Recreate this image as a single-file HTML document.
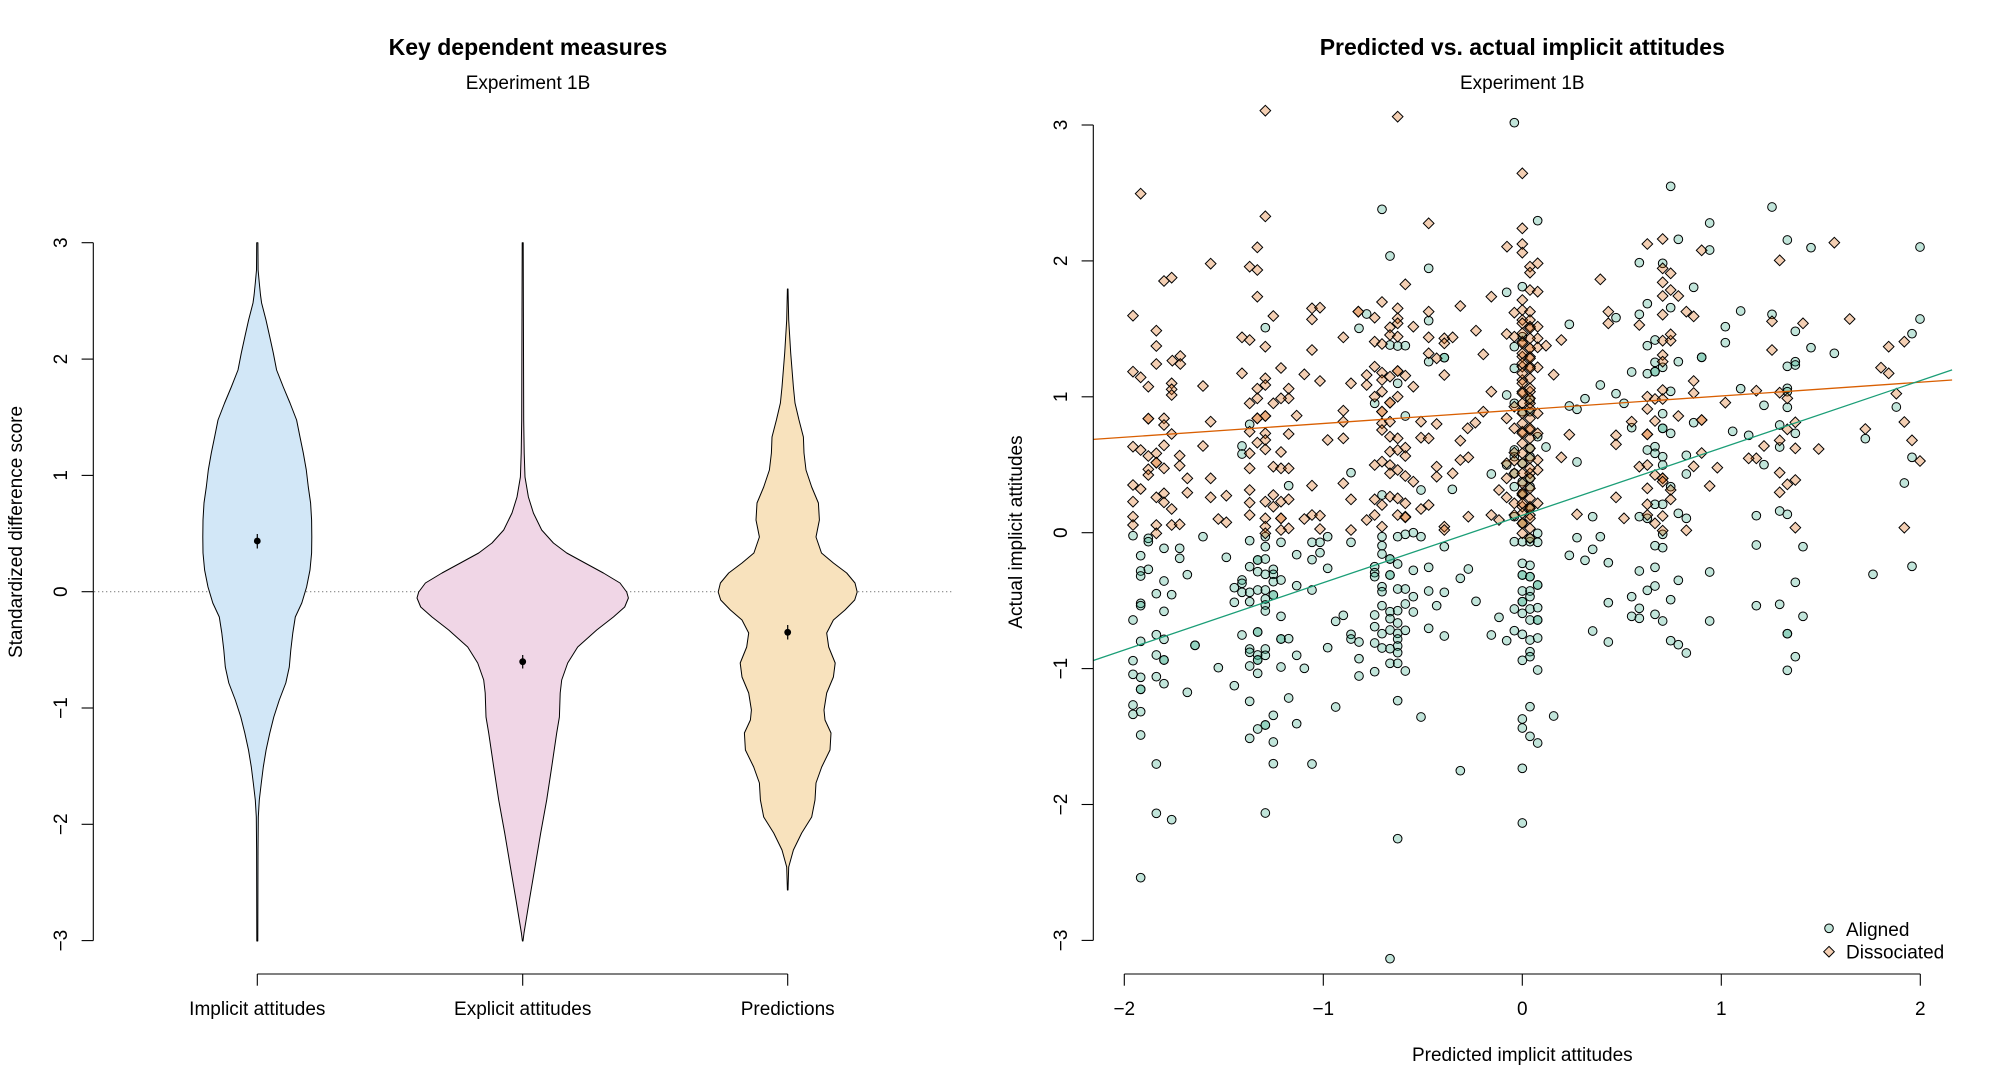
<!DOCTYPE html>
<html>
<head>
<meta charset="utf-8">
<style>
html,body{margin:0;padding:0;background:#fff;}
body{width:2000px;height:1090px;overflow:hidden;}
svg{display:block;}
text{font-family:"Liberation Sans",Arial,Helvetica,sans-serif;fill:#000;}
.c circle{fill:rgba(27,158,119,0.27);stroke:#000;stroke-width:3;}
.d path{fill:rgba(217,95,2,0.3);stroke:#000;stroke-width:3;}
</style>
</head>
<body>
<svg width="2000" height="1090" viewBox="0 0 2000 1090" xmlns="http://www.w3.org/2000/svg">
<rect width="2000" height="1090" fill="#fff"/>

<!-- ================= LEFT PANEL ================= -->
<text x="528" y="55" font-size="23" font-weight="bold" text-anchor="middle">Key dependent measures</text>
<text x="528" y="89" font-size="19" text-anchor="middle">Experiment 1B</text>

<!-- zero line -->
<line x1="94" y1="591.7" x2="953" y2="591.7" stroke="#8a8a8a" stroke-width="1.2" stroke-dasharray="1.3 2.7"/>

<!-- violins -->
<path d="M257.9 242.7 L258.1 270 L259.3 283 L260.5 295 L261.6 303 L266 320 L269.8 337 L273.3 353 L276.6 370 L283.3 387 L290 403 L296.6 420 L300 437 L303.3 453 L306.3 470 L308.3 487 L310.6 503 L311.6 520 L311.8 537 L311.6 553 L310 570 L306.6 587 L301.8 603 L295.3 617 L292.8 633 L290.8 650 L289.3 667 L285.8 683 L279.3 700 L273.8 717 L269.8 733 L266.1 750 L263.3 767 L261.3 783 L259.3 800 L258.3 817 L258 850 L257.8 941 L256.8 941 L256.6 850 L256.3 817 L255.3 800 L253.3 783 L251.3 767 L248.5 750 L244.8 733 L240.8 717 L235.3 700 L228.8 683 L225.3 667 L223.8 650 L221.8 633 L219.3 617 L212.8 603 L208 587 L204.6 570 L203 553 L202.8 537 L203 520 L204 503 L206.3 487 L208.3 470 L211.3 453 L214.6 437 L218 420 L224.6 403 L231.3 387 L238 370 L241.3 353 L244.8 337 L248.6 320 L253 303 L254.1 295 L255.3 283 L256.5 270 L256.7 242.7 Z" fill="#d2e7f7" stroke="#000" stroke-width="1" stroke-linejoin="round"/>
<path d="M523.2 242.7 L523.7 420 L524.2 453 L525 477 L528.4 497 L533.4 513 L541.7 530 L553.4 543 L566.7 553 L585 563 L603.4 573 L620 583 L626.7 592 L628.4 598 L624.7 607 L613.4 617 L596.7 630 L577.7 647 L567.7 663 L561.7 680 L560.2 693 L559.4 717 L556.7 733 L551.7 767 L546.7 800 L540.7 833 L535 867 L529.4 900 L524 933 L523 941 L522.4 941 L521.4 933 L516 900 L510.4 867 L504.7 833 L498.7 800 L493.7 767 L488.7 733 L486 717 L485.2 693 L483.7 680 L477.7 663 L467.7 647 L448.7 630 L432 617 L420.7 607 L417 598 L418.7 592 L425.4 583 L442 573 L460.4 563 L478.7 553 L492 543 L503.7 530 L512 513 L517 497 L520.4 477 L521.2 453 L521.7 420 L522.2 242.7 Z" fill="#f0d6e6" stroke="#000" stroke-width="1" stroke-linejoin="round"/>
<path d="M788 289 L788.7 320 L790.7 353 L793.4 387 L795 403 L799 420 L803.4 437 L804 453 L806 470 L811.7 487 L818.4 503 L819.4 520 L816 537 L821.5 553 L833.4 563 L846.7 573 L855 583 L857.2 592 L854.7 600 L845 610 L833.4 620 L826.7 633 L828.7 647 L835.2 663 L833.4 677 L826.7 693 L824 710 L825 720 L831 733 L830 750 L821.7 767 L816 783 L815 800 L811.7 817 L801.7 833 L793.4 850 L788.7 867 L788 890 L787.4 890 L786.7 867 L782 850 L773.7 833 L763.7 817 L760.4 800 L759.4 783 L753.7 767 L745.4 750 L744.4 733 L750.4 720 L751.4 710 L748.7 693 L742 677 L740.2 663 L746.7 647 L748.7 633 L742 620 L730.4 610 L720.7 600 L718.2 592 L720.4 583 L728.7 573 L742 563 L753.9 553 L759.4 537 L756 520 L757 503 L763.7 487 L769.4 470 L771.4 453 L772 437 L776.4 420 L780.4 403 L782 387 L784.7 353 L786.7 320 L787.4 289 Z" fill="#f8e2bd" stroke="#000" stroke-width="1" stroke-linejoin="round"/>

<!-- means with error bars -->
<g stroke="#000" stroke-width="1.2">
<line x1="257.3" y1="534" x2="257.3" y2="548.5"/>
<line x1="522.7" y1="655" x2="522.7" y2="668.5"/>
<line x1="787.7" y1="625" x2="787.7" y2="639.5"/>
</g>
<circle cx="257.3" cy="541" r="3.4" fill="#000"/>
<circle cx="522.7" cy="661.7" r="3.4" fill="#000"/>
<circle cx="787.7" cy="632.3" r="3.4" fill="#000"/>

<!-- left y axis -->
<g stroke="#000" stroke-width="1.1" fill="none">
<line x1="93.3" y1="242.7" x2="93.3" y2="940.6"/>
<line x1="81.6" y1="242.7" x2="93.3" y2="242.7"/>
<line x1="81.6" y1="359.1" x2="93.3" y2="359.1"/>
<line x1="81.6" y1="475.4" x2="93.3" y2="475.4"/>
<line x1="81.6" y1="591.7" x2="93.3" y2="591.7"/>
<line x1="81.6" y1="708" x2="93.3" y2="708"/>
<line x1="81.6" y1="824.3" x2="93.3" y2="824.3"/>
<line x1="81.6" y1="940.6" x2="93.3" y2="940.6"/>
<!-- left x axis -->
<line x1="257.3" y1="974" x2="787.7" y2="974"/>
<line x1="257.3" y1="974" x2="257.3" y2="985.7"/>
<line x1="522.7" y1="974" x2="522.7" y2="985.7"/>
<line x1="787.7" y1="974" x2="787.7" y2="985.7"/>
</g>
<g font-size="19" text-anchor="middle">
<text transform="translate(67,242.7) rotate(-90)">3</text>
<text transform="translate(67,359.1) rotate(-90)">2</text>
<text transform="translate(67,475.4) rotate(-90)">1</text>
<text transform="translate(67,591.7) rotate(-90)">0</text>
<text transform="translate(67,708) rotate(-90)">−1</text>
<text transform="translate(67,824.3) rotate(-90)">−2</text>
<text transform="translate(67,940.6) rotate(-90)">−3</text>
<text transform="translate(22,532) rotate(-90)">Standardized difference score</text>
<text x="257.3" y="1015">Implicit attitudes</text>
<text x="522.7" y="1015">Explicit attitudes</text>
<text x="787.7" y="1015">Predictions</text>
</g>

<!-- ================= RIGHT PANEL ================= -->
<text x="1522.3" y="55" font-size="23" font-weight="bold" text-anchor="middle">Predicted vs. actual implicit attitudes</text>
<text x="1522.3" y="89" font-size="19" text-anchor="middle">Experiment 1B</text>

<!-- scatter: zoom region 3 -->
<g transform="translate(1095,90) scale(0.333333)">
<g class="c">
<circle cx="1258" cy="98" r="13"/><circle cx="861" cy="358" r="13"/><circle cx="1328" cy="392" r="13"/><circle cx="885" cy="498" r="13"/><circle cx="1001" cy="535" r="13"/><circle cx="1235" cy="607" r="13"/><circle cx="1282" cy="590" r="13"/><circle cx="815" cy="672" r="13"/><circle cx="792" cy="715" r="13"/><circle cx="511" cy="713" r="13"/><circle cx="1001" cy="692" r="13"/><circle cx="885" cy="765" r="13"/><circle cx="908" cy="768" r="13"/><circle cx="931" cy="767" r="13"/><circle cx="1001" cy="815" r="13"/><circle cx="1048" cy="803" r="13"/><circle cx="1048" cy="803" r="13"/><circle cx="908" cy="880" r="13"/><circle cx="839" cy="940" r="13"/><circle cx="931" cy="978" r="13"/><circle cx="464" cy="1003" r="13"/><circle cx="441" cy="1068" r="13"/><circle cx="441" cy="1092" r="13"/><circle cx="768" cy="1148" r="13"/><circle cx="1189" cy="1152" r="13"/><circle cx="978" cy="1200" r="13"/><circle cx="1072" cy="1198" r="13"/><circle cx="1235" cy="1125" r="13"/><circle cx="1258" cy="1100" r="13"/><circle cx="1258" cy="1150" r="13"/><circle cx="1282" cy="1175" r="13"/><circle cx="1305" cy="1190" r="13"/><circle cx="1305" cy="1075" r="13"/><circle cx="1305" cy="1100" r="13"/><circle cx="1258" cy="1080" r="13"/><circle cx="1258" cy="770" r="13"/><circle cx="1282" cy="740" r="13"/><circle cx="1258" cy="835" r="13"/><circle cx="1305" cy="930" r="13"/><circle cx="1235" cy="915" r="13"/><circle cx="1258" cy="940" r="13"/><circle cx="1305" cy="965" r="13"/><circle cx="1282" cy="965" r="13"/><circle cx="1328" cy="1040" r="13"/><circle cx="581" cy="1187" r="13"/><circle cx="861" cy="1215" r="13"/><circle cx="114" cy="1337" r="13"/><circle cx="160" cy="1345" r="13"/><circle cx="160" cy="1355" r="13"/><circle cx="324" cy="1340" r="13"/><circle cx="464" cy="1352" r="13"/><circle cx="511" cy="1340" r="13"/><circle cx="511" cy="1370" r="13"/><circle cx="558" cy="1357" r="13"/><circle cx="651" cy="1357" r="13"/><circle cx="675" cy="1357" r="13"/><circle cx="698" cy="1340" r="13"/><circle cx="768" cy="1357" r="13"/><circle cx="861" cy="1340" r="13"/><circle cx="861" cy="1367" r="13"/><circle cx="908" cy="1340" r="13"/><circle cx="931" cy="1333" r="13"/><circle cx="955" cy="1328" r="13"/><circle cx="978" cy="1340" r="13"/><circle cx="1048" cy="1370" r="13"/><circle cx="1258" cy="1355" r="13"/><circle cx="1282" cy="1355" r="13"/><circle cx="1305" cy="1355" r="13"/><circle cx="1328" cy="1330" r="13"/><circle cx="1328" cy="1357" r="13"/><circle cx="207" cy="1375" r="13"/><circle cx="254" cy="1375" r="13"/>
<circle cx="1282" cy="1120" r="13"/><circle cx="1282" cy="1210" r="13"/><circle cx="1282" cy="1300" r="13"/><circle cx="1305" cy="1165" r="13"/><circle cx="1305" cy="1255" r="13"/><circle cx="1305" cy="1345" r="13"/><circle cx="1258" cy="1190" r="13"/><circle cx="1258" cy="1280" r="13"/>
</g>
<g class="d">
<path d="M511 62m0-16l16 16-16 16-16-16z"/><path d="M908 80m0-16l16 16-16 16-16-16z"/><path d="M1282 250m0-16l16 16-16 16-16-16z"/><path d="M137 311m0-16l16 16-16 16-16-16z"/><path d="M511 379m0-16l16 16-16 16-16-16z"/><path d="M1001 400m0-16l16 16-16 16-16-16z"/><path d="M1282 415m0-16l16 16-16 16-16-16z"/><path d="M1236 470m0-16l16 16-16 16-16-16z"/><path d="M1282 462m0-16l16 16-16 16-16-16z"/><path d="M1282 488m0-16l16 16-16 16-16-16z"/><path d="M487 472m0-16l16 16-16 16-16-16z"/><path d="M347 521m0-16l16 16-16 16-16-16z"/><path d="M464 530m0-16l16 16-16 16-16-16z"/><path d="M487 540m0-16l16 16-16 16-16-16z"/><path d="M207 573m0-16l16 16-16 16-16-16z"/><path d="M230 563m0-16l16 16-16 16-16-16z"/><path d="M931 583m0-16l16 16-16 16-16-16z"/><path d="M1328 520m0-16l16 16-16 16-16-16z"/><path d="M1305 530m0-16l16 16-16 16-16-16z"/><path d="M1305 548m0-16l16 16-16 16-16-16z"/><path d="M487 620m0-16l16 16-16 16-16-16z"/><path d="M1189 620m0-16l16 16-16 16-16-16z"/><path d="M1305 600m0-16l16 16-16 16-16-16z"/><path d="M1328 605m0-16l16 16-16 16-16-16z"/><path d="M861 636m0-16l16 16-16 16-16-16z"/><path d="M1096 648m0-16l16 16-16 16-16-16z"/><path d="M1282 630m0-16l16 16-16 16-16-16z"/><path d="M114 677m0-16l16 16-16 16-16-16z"/><path d="M651 655m0-16l16 16-16 16-16-16z"/><path d="M675 653m0-16l16 16-16 16-16-16z"/><path d="M651 688m0-16l16 16-16 16-16-16z"/><path d="M535 678m0-16l16 16-16 16-16-16z"/><path d="M790 665m0-16l16 16-16 16-16-16z"/><path d="M790 665m0-16l16 16-16 16-16-16z"/><path d="M839 683m0-16l16 16-16 16-16-16z"/><path d="M908 655m0-16l16 16-16 16-16-16z"/><path d="M908 685m0-16l16 16-16 16-16-16z"/><path d="M908 700m0-16l16 16-16 16-16-16z"/><path d="M1001 665m0-16l16 16-16 16-16-16z"/><path d="M1258 668m0-16l16 16-16 16-16-16z"/><path d="M1282 660m0-16l16 16-16 16-16-16z"/><path d="M1305 665m0-16l16 16-16 16-16-16z"/><path d="M1282 690m0-16l16 16-16 16-16-16z"/><path d="M1305 690m0-16l16 16-16 16-16-16z"/><path d="M1305 710m0-16l16 16-16 16-16-16z"/><path d="M1328 710m0-16l16 16-16 16-16-16z"/><path d="M184 722m0-16l16 16-16 16-16-16z"/><path d="M441 742m0-16l16 16-16 16-16-16z"/><path d="M464 750m0-16l16 16-16 16-16-16z"/><path d="M745 742m0-16l16 16-16 16-16-16z"/><path d="M885 712m0-16l16 16-16 16-16-16z"/><path d="M885 735m0-16l16 16-16 16-16-16z"/><path d="M908 740m0-16l16 16-16 16-16-16z"/><path d="M955 710m0-16l16 16-16 16-16-16z"/><path d="M1001 742m0-16l16 16-16 16-16-16z"/><path d="M1048 745m0-16l16 16-16 16-16-16z"/><path d="M1073 742m0-16l16 16-16 16-16-16z"/><path d="M1143 722m0-16l16 16-16 16-16-16z"/><path d="M1235 732m0-16l16 16-16 16-16-16z"/><path d="M1258 740m0-16l16 16-16 16-16-16z"/><path d="M1282 755m0-16l16 16-16 16-16-16z"/><path d="M1328 745m0-16l16 16-16 16-16-16z"/><path d="M184 768m0-16l16 16-16 16-16-16z"/><path d="M511 770m0-16l16 16-16 16-16-16z"/><path d="M651 780m0-16l16 16-16 16-16-16z"/><path d="M839 755m0-16l16 16-16 16-16-16z"/><path d="M861 762m0-16l16 16-16 16-16-16z"/><path d="M1048 760m0-16l16 16-16 16-16-16z"/><path d="M1305 775m0-16l16 16-16 16-16-16z"/><path d="M1328 772m0-16l16 16-16 16-16-16z"/><path d="M1282 800m0-16l16 16-16 16-16-16z"/><path d="M1305 800m0-16l16 16-16 16-16-16z"/><path d="M184 822m0-16l16 16-16 16-16-16z"/><path d="M232 812m0-16l16 16-16 16-16-16z"/><path d="M256 798m0-16l16 16-16 16-16-16z"/><path d="M256 822m0-16l16 16-16 16-16-16z"/><path d="M114 845m0-16l16 16-16 16-16-16z"/><path d="M137 862m0-16l16 16-16 16-16-16z"/><path d="M160 890m0-16l16 16-16 16-16-16z"/><path d="M230 880m0-16l16 16-16 16-16-16z"/><path d="M230 898m0-16l16 16-16 16-16-16z"/><path d="M230 915m0-16l16 16-16 16-16-16z"/><path d="M324 888m0-16l16 16-16 16-16-16z"/><path d="M441 850m0-16l16 16-16 16-16-16z"/><path d="M511 865m0-16l16 16-16 16-16-16z"/><path d="M511 885m0-16l16 16-16 16-16-16z"/><path d="M487 896m0-16l16 16-16 16-16-16z"/><path d="M558 834m0-16l16 16-16 16-16-16z"/><path d="M628 853m0-16l16 16-16 16-16-16z"/><path d="M675 873m0-16l16 16-16 16-16-16z"/><path d="M581 896m0-16l16 16-16 16-16-16z"/><path d="M581 925m0-16l16 16-16 16-16-16z"/><path d="M768 880m0-16l16 16-16 16-16-16z"/><path d="M815 855m0-16l16 16-16 16-16-16z"/><path d="M815 885m0-16l16 16-16 16-16-16z"/><path d="M839 830m0-16l16 16-16 16-16-16z"/><path d="M861 848m0-16l16 16-16 16-16-16z"/><path d="M861 870m0-16l16 16-16 16-16-16z"/><path d="M885 860m0-16l16 16-16 16-16-16z"/><path d="M908 843m0-16l16 16-16 16-16-16z"/><path d="M908 843m0-16l16 16-16 16-16-16z"/><path d="M931 857m0-16l16 16-16 16-16-16z"/><path d="M955 890m0-16l16 16-16 16-16-16z"/><path d="M1001 790m0-16l16 16-16 16-16-16z"/><path d="M1025 805m0-16l16 16-16 16-16-16z"/><path d="M1048 855m0-16l16 16-16 16-16-16z"/><path d="M1165 793m0-16l16 16-16 16-16-16z"/><path d="M1282 830m0-16l16 16-16 16-16-16z"/><path d="M1328 832m0-16l16 16-16 16-16-16z"/><path d="M1305 830m0-16l16 16-16 16-16-16z"/><path d="M1189 905m0-16l16 16-16 16-16-16z"/><path d="M1282 870m0-16l16 16-16 16-16-16z"/><path d="M1282 905m0-16l16 16-16 16-16-16z"/><path d="M1305 905m0-16l16 16-16 16-16-16z"/><path d="M861 905m0-16l16 16-16 16-16-16z"/><path d="M885 938m0-16l16 16-16 16-16-16z"/><path d="M885 938m0-16l16 16-16 16-16-16z"/><path d="M839 920m0-16l16 16-16 16-16-16z"/><path d="M908 920m0-16l16 16-16 16-16-16z"/><path d="M464 940m0-16l16 16-16 16-16-16z"/><path d="M487 925m0-16l16 16-16 16-16-16z"/><path d="M535 940m0-16l16 16-16 16-16-16z"/><path d="M511 978m0-16l16 16-16 16-16-16z"/><path d="M511 978m0-16l16 16-16 16-16-16z"/><path d="M487 985m0-16l16 16-16 16-16-16z"/><path d="M487 985m0-16l16 16-16 16-16-16z"/><path d="M558 925m0-16l16 16-16 16-16-16z"/><path d="M160 986m0-16l16 16-16 16-16-16z"/><path d="M160 986m0-16l16 16-16 16-16-16z"/><path d="M207 985m0-16l16 16-16 16-16-16z"/><path d="M207 1005m0-16l16 16-16 16-16-16z"/><path d="M347 995m0-16l16 16-16 16-16-16z"/><path d="M605 977m0-16l16 16-16 16-16-16z"/><path d="M745 962m0-16l16 16-16 16-16-16z"/><path d="M745 995m0-16l16 16-16 16-16-16z"/><path d="M861 965m0-16l16 16-16 16-16-16z"/><path d="M861 965m0-16l16 16-16 16-16-16z"/><path d="M861 1000m0-16l16 16-16 16-16-16z"/><path d="M885 995m0-16l16 16-16 16-16-16z"/><path d="M978 995m0-16l16 16-16 16-16-16z"/><path d="M1025 1002m0-16l16 16-16 16-16-16z"/><path d="M1118 1015m0-16l16 16-16 16-16-16z"/><path d="M1141 998m0-16l16 16-16 16-16-16z"/><path d="M1165 965m0-16l16 16-16 16-16-16z"/><path d="M1235 985m0-16l16 16-16 16-16-16z"/><path d="M1258 950m0-16l16 16-16 16-16-16z"/><path d="M1305 940m0-16l16 16-16 16-16-16z"/><path d="M1328 970m0-16l16 16-16 16-16-16z"/><path d="M230 1032m0-16l16 16-16 16-16-16z"/><path d="M464 1025m0-16l16 16-16 16-16-16z"/><path d="M511 1030m0-16l16 16-16 16-16-16z"/><path d="M581 1032m0-16l16 16-16 16-16-16z"/><path d="M861 1020m0-16l16 16-16 16-16-16z"/><path d="M885 1040m0-16l16 16-16 16-16-16z"/><path d="M908 1045m0-16l16 16-16 16-16-16z"/><path d="M978 1043m0-16l16 16-16 16-16-16z"/><path d="M1001 1045m0-16l16 16-16 16-16-16z"/><path d="M1096 1052m0-16l16 16-16 16-16-16z"/><path d="M698 1050m0-16l16 16-16 16-16-16z"/><path d="M745 1045m0-16l16 16-16 16-16-16z"/><path d="M1258 1015m0-16l16 16-16 16-16-16z"/><path d="M1282 1025m0-16l16 16-16 16-16-16z"/><path d="M1305 1020m0-16l16 16-16 16-16-16z"/><path d="M1328 1030m0-16l16 16-16 16-16-16z"/><path d="M114 1070m0-16l16 16-16 16-16-16z"/><path d="M137 1080m0-16l16 16-16 16-16-16z"/><path d="M160 1098m0-16l16 16-16 16-16-16z"/><path d="M184 1090m0-16l16 16-16 16-16-16z"/><path d="M207 1066m0-16l16 16-16 16-16-16z"/><path d="M324 1068m0-16l16 16-16 16-16-16z"/><path d="M464 1090m0-16l16 16-16 16-16-16z"/><path d="M487 1058m0-16l16 16-16 16-16-16z"/><path d="M511 1050m0-16l16 16-16 16-16-16z"/><path d="M511 1078m0-16l16 16-16 16-16-16z"/><path d="M558 1086m0-16l16 16-16 16-16-16z"/><path d="M885 1085m0-16l16 16-16 16-16-16z"/><path d="M908 1080m0-16l16 16-16 16-16-16z"/><path d="M931 1073m0-16l16 16-16 16-16-16z"/><path d="M931 1098m0-16l16 16-16 16-16-16z"/><path d="M1096 1110m0-16l16 16-16 16-16-16z"/><path d="M1120 1102m0-16l16 16-16 16-16-16z"/><path d="M1258 1088m0-16l16 16-16 16-16-16z"/><path d="M1258 1112m0-16l16 16-16 16-16-16z"/><path d="M1328 1110m0-16l16 16-16 16-16-16z"/><path d="M160 1138m0-16l16 16-16 16-16-16z"/><path d="M160 1155m0-16l16 16-16 16-16-16z"/><path d="M184 1118m0-16l16 16-16 16-16-16z"/><path d="M184 1118m0-16l16 16-16 16-16-16z"/><path d="M207 1135m0-16l16 16-16 16-16-16z"/><path d="M254 1097m0-16l16 16-16 16-16-16z"/><path d="M254 1127m0-16l16 16-16 16-16-16z"/><path d="M277 1165m0-16l16 16-16 16-16-16z"/><path d="M347 1165m0-16l16 16-16 16-16-16z"/><path d="M464 1135m0-16l16 16-16 16-16-16z"/><path d="M535 1130m0-16l16 16-16 16-16-16z"/><path d="M558 1135m0-16l16 16-16 16-16-16z"/><path d="M581 1135m0-16l16 16-16 16-16-16z"/><path d="M839 1125m0-16l16 16-16 16-16-16z"/><path d="M861 1115m0-16l16 16-16 16-16-16z"/><path d="M885 1125m0-16l16 16-16 16-16-16z"/><path d="M885 1150m0-16l16 16-16 16-16-16z"/><path d="M908 1140m0-16l16 16-16 16-16-16z"/><path d="M931 1158m0-16l16 16-16 16-16-16z"/><path d="M955 1175m0-16l16 16-16 16-16-16z"/><path d="M1025 1130m0-16l16 16-16 16-16-16z"/><path d="M1025 1160m0-16l16 16-16 16-16-16z"/><path d="M1073 1150m0-16l16 16-16 16-16-16z"/><path d="M1235 1120m0-16l16 16-16 16-16-16z"/><path d="M1235 1165m0-16l16 16-16 16-16-16z"/><path d="M1258 1150m0-16l16 16-16 16-16-16z"/><path d="M1305 1150m0-16l16 16-16 16-16-16z"/><path d="M1328 1140m0-16l16 16-16 16-16-16z"/><path d="M114 1185m0-16l16 16-16 16-16-16z"/><path d="M137 1197m0-16l16 16-16 16-16-16z"/><path d="M184 1222m0-16l16 16-16 16-16-16z"/><path d="M207 1210m0-16l16 16-16 16-16-16z"/><path d="M207 1237m0-16l16 16-16 16-16-16z"/><path d="M230 1257m0-16l16 16-16 16-16-16z"/><path d="M277 1208m0-16l16 16-16 16-16-16z"/><path d="M347 1222m0-16l16 16-16 16-16-16z"/><path d="M394 1217m0-16l16 16-16 16-16-16z"/><path d="M464 1200m0-16l16 16-16 16-16-16z"/><path d="M464 1238m0-16l16 16-16 16-16-16z"/><path d="M511 1235m0-16l16 16-16 16-16-16z"/><path d="M535 1250m0-16l16 16-16 16-16-16z"/><path d="M535 1215m0-16l16 16-16 16-16-16z"/><path d="M558 1235m0-16l16 16-16 16-16-16z"/><path d="M581 1228m0-16l16 16-16 16-16-16z"/><path d="M558 1285m0-16l16 16-16 16-16-16z"/><path d="M558 1285m0-16l16 16-16 16-16-16z"/><path d="M651 1187m0-16l16 16-16 16-16-16z"/><path d="M745 1180m0-16l16 16-16 16-16-16z"/><path d="M768 1228m0-16l16 16-16 16-16-16z"/><path d="M839 1228m0-16l16 16-16 16-16-16z"/><path d="M861 1245m0-16l16 16-16 16-16-16z"/><path d="M885 1220m0-16l16 16-16 16-16-16z"/><path d="M908 1225m0-16l16 16-16 16-16-16z"/><path d="M931 1240m0-16l16 16-16 16-16-16z"/><path d="M931 1280m0-16l16 16-16 16-16-16z"/><path d="M978 1257m0-16l16 16-16 16-16-16z"/><path d="M1001 1245m0-16l16 16-16 16-16-16z"/><path d="M1212 1200m0-16l16 16-16 16-16-16z"/><path d="M1235 1222m0-16l16 16-16 16-16-16z"/><path d="M1258 1240m0-16l16 16-16 16-16-16z"/><path d="M1282 1215m0-16l16 16-16 16-16-16z"/><path d="M1282 1250m0-16l16 16-16 16-16-16z"/><path d="M1305 1250m0-16l16 16-16 16-16-16z"/><path d="M1328 1240m0-16l16 16-16 16-16-16z"/><path d="M114 1235m0-16l16 16-16 16-16-16z"/><path d="M114 1280m0-16l16 16-16 16-16-16z"/><path d="M114 1305m0-16l16 16-16 16-16-16z"/><path d="M184 1305m0-16l16 16-16 16-16-16z"/><path d="M230 1305m0-16l16 16-16 16-16-16z"/><path d="M254 1303m0-16l16 16-16 16-16-16z"/><path d="M370 1287m0-16l16 16-16 16-16-16z"/><path d="M394 1297m0-16l16 16-16 16-16-16z"/><path d="M464 1275m0-16l16 16-16 16-16-16z"/><path d="M511 1285m0-16l16 16-16 16-16-16z"/><path d="M511 1310m0-16l16 16-16 16-16-16z"/><path d="M581 1315m0-16l16 16-16 16-16-16z"/><path d="M628 1287m0-16l16 16-16 16-16-16z"/><path d="M651 1275m0-16l16 16-16 16-16-16z"/><path d="M675 1277m0-16l16 16-16 16-16-16z"/><path d="M675 1317m0-16l16 16-16 16-16-16z"/><path d="M768 1320m0-16l16 16-16 16-16-16z"/><path d="M815 1290m0-16l16 16-16 16-16-16z"/><path d="M839 1275m0-16l16 16-16 16-16-16z"/><path d="M861 1310m0-16l16 16-16 16-16-16z"/><path d="M908 1275m0-16l16 16-16 16-16-16z"/><path d="M931 1282m0-16l16 16-16 16-16-16z"/><path d="M1048 1310m0-16l16 16-16 16-16-16z"/><path d="M1048 1320m0-16l16 16-16 16-16-16z"/><path d="M1120 1280m0-16l16 16-16 16-16-16z"/><path d="M1189 1275m0-16l16 16-16 16-16-16z"/><path d="M1212 1290m0-16l16 16-16 16-16-16z"/><path d="M1258 1275m0-16l16 16-16 16-16-16z"/><path d="M1282 1300m0-16l16 16-16 16-16-16z"/><path d="M1305 1275m0-16l16 16-16 16-16-16z"/><path d="M184 1330m0-16l16 16-16 16-16-16z"/><path d="M511 1330m0-16l16 16-16 16-16-16z"/><path d="M558 1320m0-16l16 16-16 16-16-16z"/>
<path d="M1282 700m0-16l16 16-16 16-16-16z"/><path d="M1282 730m0-16l16 16-16 16-16-16z"/><path d="M1282 760m0-16l16 16-16 16-16-16z"/><path d="M1282 790m0-16l16 16-16 16-16-16z"/><path d="M1282 820m0-16l16 16-16 16-16-16z"/><path d="M1282 850m0-16l16 16-16 16-16-16z"/><path d="M1282 880m0-16l16 16-16 16-16-16z"/><path d="M1282 910m0-16l16 16-16 16-16-16z"/><path d="M1282 940m0-16l16 16-16 16-16-16z"/><path d="M1282 970m0-16l16 16-16 16-16-16z"/><path d="M1282 1000m0-16l16 16-16 16-16-16z"/><path d="M1282 1030m0-16l16 16-16 16-16-16z"/><path d="M1282 1060m0-16l16 16-16 16-16-16z"/><path d="M1282 1090m0-16l16 16-16 16-16-16z"/><path d="M1282 1120m0-16l16 16-16 16-16-16z"/><path d="M1282 1150m0-16l16 16-16 16-16-16z"/><path d="M1282 1180m0-16l16 16-16 16-16-16z"/><path d="M1282 1210m0-16l16 16-16 16-16-16z"/><path d="M1282 1240m0-16l16 16-16 16-16-16z"/><path d="M1282 1270m0-16l16 16-16 16-16-16z"/><path d="M1282 1300m0-16l16 16-16 16-16-16z"/><path d="M1282 1330m0-16l16 16-16 16-16-16z"/>
<path d="M1305 715m0-16l16 16-16 16-16-16z"/><path d="M1305 745m0-16l16 16-16 16-16-16z"/><path d="M1305 775m0-16l16 16-16 16-16-16z"/><path d="M1305 805m0-16l16 16-16 16-16-16z"/><path d="M1305 835m0-16l16 16-16 16-16-16z"/><path d="M1305 865m0-16l16 16-16 16-16-16z"/><path d="M1305 895m0-16l16 16-16 16-16-16z"/><path d="M1305 925m0-16l16 16-16 16-16-16z"/><path d="M1305 955m0-16l16 16-16 16-16-16z"/><path d="M1305 985m0-16l16 16-16 16-16-16z"/><path d="M1305 1015m0-16l16 16-16 16-16-16z"/><path d="M1305 1045m0-16l16 16-16 16-16-16z"/><path d="M1305 1075m0-16l16 16-16 16-16-16z"/><path d="M1305 1105m0-16l16 16-16 16-16-16z"/><path d="M1305 1135m0-16l16 16-16 16-16-16z"/><path d="M1305 1165m0-16l16 16-16 16-16-16z"/><path d="M1305 1195m0-16l16 16-16 16-16-16z"/><path d="M1305 1225m0-16l16 16-16 16-16-16z"/><path d="M1305 1255m0-16l16 16-16 16-16-16z"/><path d="M1305 1285m0-16l16 16-16 16-16-16z"/><path d="M1305 1315m0-16l16 16-16 16-16-16z"/><path d="M1305 1345m0-16l16 16-16 16-16-16z"/>
</g>
</g>

<!-- scatter: zoom region 4 -->
<g transform="translate(1530,90) scale(0.333333)">
<g class="c">
<circle cx="422" cy="289" r="13"/><circle cx="726" cy="351" r="13"/><circle cx="539" cy="399" r="13"/><circle cx="445" cy="448" r="13"/><circle cx="772" cy="450" r="13"/><circle cx="843" cy="473" r="13"/><circle cx="1170" cy="471" r="13"/><circle cx="539" cy="480" r="13"/><circle cx="328" cy="518" r="13"/><circle cx="398" cy="520" r="13"/><circle cx="491" cy="592" r="13"/><circle cx="352" cy="641" r="13"/><circle cx="422" cy="653" r="13"/><circle cx="632" cy="663" r="13"/><circle cx="258" cy="683" r="13"/><circle cx="726" cy="673" r="13"/><circle cx="328" cy="673" r="13"/><circle cx="118" cy="703" r="13"/><circle cx="586" cy="710" r="13"/><circle cx="1170" cy="687" r="13"/><circle cx="1146" cy="731" r="13"/><circle cx="796" cy="724" r="13"/><circle cx="586" cy="758" r="13"/><circle cx="352" cy="767" r="13"/><circle cx="375" cy="750" r="13"/><circle cx="843" cy="773" r="13"/><circle cx="913" cy="790" r="13"/><circle cx="375" cy="817" r="13"/><circle cx="398" cy="832" r="13"/><circle cx="445" cy="815" r="13"/><circle cx="515" cy="802" r="13"/><circle cx="515" cy="802" r="13"/><circle cx="796" cy="815" r="13"/><circle cx="796" cy="825" r="13"/><circle cx="772" cy="829" r="13"/><circle cx="305" cy="846" r="13"/><circle cx="352" cy="851" r="13"/><circle cx="375" cy="845" r="13"/><circle cx="375" cy="845" r="13"/><circle cx="211" cy="885" r="13"/><circle cx="258" cy="911" r="13"/><circle cx="165" cy="926" r="13"/><circle cx="118" cy="948" r="13"/><circle cx="141" cy="958" r="13"/><circle cx="282" cy="940" r="13"/><circle cx="422" cy="904" r="13"/><circle cx="632" cy="896" r="13"/><circle cx="772" cy="895" r="13"/><circle cx="772" cy="905" r="13"/><circle cx="702" cy="946" r="13"/><circle cx="772" cy="952" r="13"/><circle cx="1099" cy="951" r="13"/><circle cx="398" cy="971" r="13"/><circle cx="491" cy="998" r="13"/><circle cx="305" cy="1013" r="13"/><circle cx="398" cy="1015" r="13"/><circle cx="398" cy="1015" r="13"/><circle cx="422" cy="1030" r="13"/><circle cx="608" cy="1024" r="13"/><circle cx="656" cy="1036" r="13"/><circle cx="749" cy="1005" r="13"/><circle cx="796" cy="1030" r="13"/><circle cx="1006" cy="1046" r="13"/><circle cx="48" cy="1071" r="13"/><circle cx="352" cy="1080" r="13"/><circle cx="375" cy="1070" r="13"/><circle cx="375" cy="1090" r="13"/><circle cx="398" cy="1100" r="13"/><circle cx="469" cy="1096" r="13"/><circle cx="398" cy="1125" r="13"/><circle cx="749" cy="1071" r="13"/><circle cx="702" cy="1124" r="13"/><circle cx="141" cy="1116" r="13"/><circle cx="469" cy="1152" r="13"/><circle cx="1146" cy="1102" r="13"/><circle cx="1123" cy="1179" r="13"/><circle cx="422" cy="1190" r="13"/><circle cx="375" cy="1243" r="13"/><circle cx="398" cy="1243" r="13"/><circle cx="445" cy="1270" r="13"/><circle cx="469" cy="1285" r="13"/><circle cx="328" cy="1280" r="13"/><circle cx="352" cy="1285" r="13"/><circle cx="188" cy="1280" r="13"/><circle cx="679" cy="1277" r="13"/><circle cx="749" cy="1263" r="13"/><circle cx="772" cy="1273" r="13"/><circle cx="141" cy="1343" r="13"/><circle cx="211" cy="1340" r="13"/><circle cx="375" cy="1367" r="13"/><circle cx="398" cy="1373" r="13"/><circle cx="679" cy="1365" r="13"/><circle cx="819" cy="1370" r="13"/><circle cx="188" cy="1378" r="13"/><circle cx="398" cy="1333" r="13"/>
</g>
<g class="d">
<path d="M398 447m0-16l16 16-16 16-16-16z"/><path d="M352 462m0-16l16 16-16 16-16-16z"/><path d="M515 481m0-16l16 16-16 16-16-16z"/><path d="M749 511m0-16l16 16-16 16-16-16z"/><path d="M913 458m0-16l16 16-16 16-16-16z"/><path d="M211 568m0-16l16 16-16 16-16-16z"/><path d="M398 535m0-16l16 16-16 16-16-16z"/><path d="M422 550m0-16l16 16-16 16-16-16z"/><path d="M398 577m0-16l16 16-16 16-16-16z"/><path d="M422 600m0-16l16 16-16 16-16-16z"/><path d="M445 618m0-16l16 16-16 16-16-16z"/><path d="M398 618m0-16l16 16-16 16-16-16z"/><path d="M235 665m0-16l16 16-16 16-16-16z"/><path d="M235 700m0-16l16 16-16 16-16-16z"/><path d="M328 705m0-16l16 16-16 16-16-16z"/><path d="M469 665m0-16l16 16-16 16-16-16z"/><path d="M491 679m0-16l16 16-16 16-16-16z"/><path d="M398 674m0-16l16 16-16 16-16-16z"/><path d="M398 752m0-16l16 16-16 16-16-16z"/><path d="M422 752m0-16l16 16-16 16-16-16z"/><path d="M422 733m0-16l16 16-16 16-16-16z"/><path d="M94 750m0-16l16 16-16 16-16-16z"/><path d="M48 767m0-16l16 16-16 16-16-16z"/><path d="M726 694m0-16l16 16-16 16-16-16z"/><path d="M819 700m0-16l16 16-16 16-16-16z"/><path d="M959 687m0-16l16 16-16 16-16-16z"/><path d="M726 780m0-16l16 16-16 16-16-16z"/><path d="M398 795m0-16l16 16-16 16-16-16z"/><path d="M398 815m0-16l16 16-16 16-16-16z"/><path d="M1076 770m0-16l16 16-16 16-16-16z"/><path d="M1123 755m0-16l16 16-16 16-16-16z"/><path d="M71 854m0-16l16 16-16 16-16-16z"/><path d="M1053 833m0-16l16 16-16 16-16-16z"/><path d="M1076 850m0-16l16 16-16 16-16-16z"/><path d="M491 873m0-16l16 16-16 16-16-16z"/><path d="M491 909m0-16l16 16-16 16-16-16z"/><path d="M398 900m0-16l16 16-16 16-16-16z"/><path d="M352 920m0-16l16 16-16 16-16-16z"/><path d="M375 927m0-16l16 16-16 16-16-16z"/><path d="M398 927m0-16l16 16-16 16-16-16z"/><path d="M679 902m0-16l16 16-16 16-16-16z"/><path d="M749 908m0-16l16 16-16 16-16-16z"/><path d="M772 925m0-16l16 16-16 16-16-16z"/><path d="M586 938m0-16l16 16-16 16-16-16z"/><path d="M352 957m0-16l16 16-16 16-16-16z"/><path d="M445 978m0-16l16 16-16 16-16-16z"/><path d="M515 990m0-16l16 16-16 16-16-16z"/><path d="M515 990m0-16l16 16-16 16-16-16z"/><path d="M375 993m0-16l16 16-16 16-16-16z"/><path d="M305 995m0-16l16 16-16 16-16-16z"/><path d="M118 1034m0-16l16 16-16 16-16-16z"/><path d="M258 1036m0-16l16 16-16 16-16-16z"/><path d="M258 1063m0-16l16 16-16 16-16-16z"/><path d="M352 1033m0-16l16 16-16 16-16-16z"/><path d="M352 1033m0-16l16 16-16 16-16-16z"/><path d="M1099 911m0-16l16 16-16 16-16-16z"/><path d="M1123 996m0-16l16 16-16 16-16-16z"/><path d="M1146 1051m0-16l16 16-16 16-16-16z"/><path d="M1170 1113m0-16l16 16-16 16-16-16z"/><path d="M1006 1017m0-16l16 16-16 16-16-16z"/><path d="M796 997m0-16l16 16-16 16-16-16z"/><path d="M772 1018m0-16l16 16-16 16-16-16z"/><path d="M749 1051m0-16l16 16-16 16-16-16z"/><path d="M796 1075m0-16l16 16-16 16-16-16z"/><path d="M866 1077m0-16l16 16-16 16-16-16z"/><path d="M702 1068m0-16l16 16-16 16-16-16z"/><path d="M679 1105m0-16l16 16-16 16-16-16z"/><path d="M656 1105m0-16l16 16-16 16-16-16z"/><path d="M515 1089m0-16l16 16-16 16-16-16z"/><path d="M491 1129m0-16l16 16-16 16-16-16z"/><path d="M562 1133m0-16l16 16-16 16-16-16z"/><path d="M94 1102m0-16l16 16-16 16-16-16z"/><path d="M328 1130m0-16l16 16-16 16-16-16z"/><path d="M352 1125m0-16l16 16-16 16-16-16z"/><path d="M375 1155m0-16l16 16-16 16-16-16z"/><path d="M398 1165m0-16l16 16-16 16-16-16z"/><path d="M398 1165m0-16l16 16-16 16-16-16z"/><path d="M398 1175m0-16l16 16-16 16-16-16z"/><path d="M422 1200m0-16l16 16-16 16-16-16z"/><path d="M422 1228m0-16l16 16-16 16-16-16z"/><path d="M539 1188m0-16l16 16-16 16-16-16z"/><path d="M749 1148m0-16l16 16-16 16-16-16z"/><path d="M796 1170m0-16l16 16-16 16-16-16z"/><path d="M772 1183m0-16l16 16-16 16-16-16z"/><path d="M749 1207m0-16l16 16-16 16-16-16z"/><path d="M352 1195m0-16l16 16-16 16-16-16z"/><path d="M258 1222m0-16l16 16-16 16-16-16z"/><path d="M352 1243m0-16l16 16-16 16-16-16z"/><path d="M141 1273m0-16l16 16-16 16-16-16z"/><path d="M282 1285m0-16l16 16-16 16-16-16z"/><path d="M352 1275m0-16l16 16-16 16-16-16z"/><path d="M398 1278m0-16l16 16-16 16-16-16z"/><path d="M375 1300m0-16l16 16-16 16-16-16z"/><path d="M469 1321m0-16l16 16-16 16-16-16z"/><path d="M398 1322m0-16l16 16-16 16-16-16z"/><path d="M796 1313m0-16l16 16-16 16-16-16z"/><path d="M1123 1313m0-16l16 16-16 16-16-16z"/>
</g>
</g>

<!-- scatter: zoom region 6 -->
<g transform="translate(1095,540) scale(0.333333)">
<g class="c">
<circle cx="137" cy="47" r="13"/><circle cx="160" cy="88" r="13"/><circle cx="137" cy="93" r="13"/><circle cx="137" cy="108" r="13"/><circle cx="254" cy="55" r="13"/><circle cx="394" cy="52" r="13"/><circle cx="464" cy="80" r="13"/><circle cx="488" cy="60" r="13"/><circle cx="488" cy="60" r="13"/><circle cx="511" cy="57" r="13"/><circle cx="535" cy="88" r="13"/><circle cx="535" cy="103" r="13"/><circle cx="535" cy="125" r="13"/><circle cx="488" cy="95" r="13"/><circle cx="511" cy="103" r="13"/><circle cx="441" cy="120" r="13"/><circle cx="441" cy="130" r="13"/><circle cx="418" cy="143" r="13"/><circle cx="441" cy="157" r="13"/><circle cx="464" cy="157" r="13"/><circle cx="488" cy="150" r="13"/><circle cx="511" cy="150" r="13"/><circle cx="511" cy="177" r="13"/><circle cx="535" cy="165" r="13"/><circle cx="535" cy="165" r="13"/><circle cx="511" cy="195" r="13"/><circle cx="511" cy="213" r="13"/><circle cx="558" cy="120" r="13"/><circle cx="605" cy="44" r="13"/><circle cx="651" cy="59" r="13"/><circle cx="675" cy="38" r="13"/><circle cx="698" cy="85" r="13"/><circle cx="605" cy="137" r="13"/><circle cx="651" cy="150" r="13"/><circle cx="207" cy="123" r="13"/><circle cx="184" cy="161" r="13"/><circle cx="230" cy="164" r="13"/><circle cx="207" cy="214" r="13"/><circle cx="277" cy="104" r="13"/><circle cx="114" cy="240" r="13"/><circle cx="137" cy="190" r="13"/><circle cx="137" cy="197" r="13"/><circle cx="418" cy="187" r="13"/><circle cx="464" cy="185" r="13"/><circle cx="558" cy="229" r="13"/><circle cx="722" cy="244" r="13"/><circle cx="745" cy="226" r="13"/><circle cx="768" cy="283" r="13"/><circle cx="768" cy="297" r="13"/><circle cx="792" cy="306" r="13"/><circle cx="839" cy="80" r="13"/><circle cx="839" cy="98" r="13"/><circle cx="839" cy="110" r="13"/><circle cx="861" cy="42" r="13"/><circle cx="885" cy="57" r="13"/><circle cx="885" cy="57" r="13"/><circle cx="908" cy="72" r="13"/><circle cx="885" cy="105" r="13"/><circle cx="885" cy="105" r="13"/><circle cx="861" cy="140" r="13"/><circle cx="861" cy="155" r="13"/><circle cx="908" cy="147" r="13"/><circle cx="931" cy="147" r="13"/><circle cx="955" cy="91" r="13"/><circle cx="955" cy="170" r="13"/><circle cx="931" cy="192" r="13"/><circle cx="955" cy="216" r="13"/><circle cx="861" cy="197" r="13"/><circle cx="885" cy="215" r="13"/><circle cx="885" cy="236" r="13"/><circle cx="908" cy="212" r="13"/><circle cx="908" cy="249" r="13"/><circle cx="839" cy="225" r="13"/><circle cx="839" cy="260" r="13"/><circle cx="861" cy="281" r="13"/><circle cx="885" cy="270" r="13"/><circle cx="908" cy="280" r="13"/><circle cx="908" cy="297" r="13"/><circle cx="931" cy="271" r="13"/><circle cx="908" cy="318" r="13"/><circle cx="908" cy="338" r="13"/><circle cx="839" cy="309" r="13"/><circle cx="861" cy="324" r="13"/><circle cx="885" cy="326" r="13"/><circle cx="885" cy="370" r="13"/><circle cx="908" cy="370" r="13"/><circle cx="931" cy="393" r="13"/><circle cx="839" cy="395" r="13"/><circle cx="792" cy="356" r="13"/><circle cx="792" cy="408" r="13"/><circle cx="1001" cy="82" r="13"/><circle cx="1001" cy="153" r="13"/><circle cx="1048" cy="157" r="13"/><circle cx="1025" cy="197" r="13"/><circle cx="1001" cy="265" r="13"/><circle cx="1048" cy="288" r="13"/><circle cx="1096" cy="115" r="13"/><circle cx="1120" cy="87" r="13"/><circle cx="1143" cy="184" r="13"/><circle cx="1212" cy="232" r="13"/><circle cx="1189" cy="285" r="13"/><circle cx="1235" cy="302" r="13"/><circle cx="1258" cy="272" r="13"/><circle cx="1258" cy="207" r="13"/><circle cx="1282" cy="70" r="13"/><circle cx="1305" cy="76" r="13"/><circle cx="1282" cy="105" r="13"/><circle cx="1282" cy="105" r="13"/><circle cx="1305" cy="110" r="13"/><circle cx="1305" cy="110" r="13"/><circle cx="1282" cy="153" r="13"/><circle cx="1305" cy="153" r="13"/><circle cx="1282" cy="185" r="13"/><circle cx="1282" cy="185" r="13"/><circle cx="1282" cy="220" r="13"/><circle cx="1305" cy="207" r="13"/><circle cx="1305" cy="240" r="13"/><circle cx="1328" cy="240" r="13"/><circle cx="1328" cy="240" r="13"/><circle cx="1328" cy="203" r="13"/><circle cx="1328" cy="135" r="13"/><circle cx="1328" cy="135" r="13"/><circle cx="1305" cy="170" r="13"/><circle cx="1282" cy="283" r="13"/><circle cx="1305" cy="300" r="13"/><circle cx="1305" cy="335" r="13"/><circle cx="1305" cy="350" r="13"/><circle cx="1328" cy="294" r="13"/><circle cx="1282" cy="361" r="13"/><circle cx="1328" cy="390" r="13"/><circle cx="184" cy="284" r="13"/><circle cx="207" cy="298" r="13"/><circle cx="137" cy="304" r="13"/><circle cx="114" cy="362" r="13"/><circle cx="184" cy="345" r="13"/><circle cx="207" cy="360" r="13"/><circle cx="207" cy="360" r="13"/><circle cx="207" cy="431" r="13"/><circle cx="184" cy="410" r="13"/><circle cx="137" cy="412" r="13"/><circle cx="114" cy="403" r="13"/><circle cx="137" cy="448" r="13"/><circle cx="137" cy="448" r="13"/><circle cx="277" cy="457" r="13"/><circle cx="300" cy="316" r="13"/><circle cx="300" cy="316" r="13"/><circle cx="370" cy="383" r="13"/><circle cx="418" cy="437" r="13"/><circle cx="441" cy="285" r="13"/><circle cx="464" cy="327" r="13"/><circle cx="464" cy="337" r="13"/><circle cx="464" cy="378" r="13"/><circle cx="488" cy="276" r="13"/><circle cx="488" cy="276" r="13"/><circle cx="488" cy="345" r="13"/><circle cx="488" cy="360" r="13"/><circle cx="488" cy="360" r="13"/><circle cx="511" cy="327" r="13"/><circle cx="511" cy="346" r="13"/><circle cx="488" cy="400" r="13"/><circle cx="558" cy="297" r="13"/><circle cx="558" cy="297" r="13"/><circle cx="581" cy="296" r="13"/><circle cx="558" cy="381" r="13"/><circle cx="605" cy="346" r="13"/><circle cx="628" cy="385" r="13"/><circle cx="698" cy="323" r="13"/><circle cx="114" cy="495" r="13"/><circle cx="114" cy="523" r="13"/><circle cx="137" cy="515" r="13"/><circle cx="137" cy="585" r="13"/><circle cx="184" cy="672" r="13"/><circle cx="184" cy="820" r="13"/><circle cx="230" cy="839" r="13"/><circle cx="137" cy="1013" r="13"/><circle cx="464" cy="484" r="13"/><circle cx="581" cy="474" r="13"/><circle cx="464" cy="595" r="13"/><circle cx="488" cy="567" r="13"/><circle cx="511" cy="555" r="13"/><circle cx="511" cy="555" r="13"/><circle cx="535" cy="526" r="13"/><circle cx="535" cy="606" r="13"/><circle cx="535" cy="671" r="13"/><circle cx="605" cy="551" r="13"/><circle cx="651" cy="672" r="13"/><circle cx="511" cy="819" r="13"/><circle cx="722" cy="501" r="13"/><circle cx="908" cy="482" r="13"/><circle cx="978" cy="531" r="13"/><circle cx="908" cy="896" r="13"/><circle cx="885" cy="1256" r="13"/><circle cx="1096" cy="692" r="13"/><circle cx="1282" cy="537" r="13"/><circle cx="1282" cy="564" r="13"/><circle cx="1305" cy="500" r="13"/><circle cx="1305" cy="589" r="13"/><circle cx="1328" cy="609" r="13"/><circle cx="1282" cy="685" r="13"/><circle cx="1282" cy="849" r="13"/>
</g>
</g>

<!-- scatter: zoom region 7 -->
<g transform="translate(1530,540) scale(0.333333)">
<g class="c">
<circle cx="118" cy="46" r="13"/><circle cx="165" cy="61" r="13"/><circle cx="235" cy="68" r="13"/><circle cx="328" cy="93" r="13"/><circle cx="375" cy="82" r="13"/><circle cx="539" cy="96" r="13"/><circle cx="445" cy="121" r="13"/><circle cx="375" cy="138" r="13"/><circle cx="352" cy="151" r="13"/><circle cx="305" cy="170" r="13"/><circle cx="422" cy="179" r="13"/><circle cx="328" cy="205" r="13"/><circle cx="305" cy="229" r="13"/><circle cx="328" cy="235" r="13"/><circle cx="375" cy="223" r="13"/><circle cx="398" cy="243" r="13"/><circle cx="539" cy="243" r="13"/><circle cx="188" cy="273" r="13"/><circle cx="235" cy="188" r="13"/><circle cx="235" cy="306" r="13"/><circle cx="422" cy="302" r="13"/><circle cx="445" cy="314" r="13"/><circle cx="469" cy="339" r="13"/><circle cx="796" cy="127" r="13"/><circle cx="679" cy="197" r="13"/><circle cx="749" cy="193" r="13"/><circle cx="819" cy="229" r="13"/><circle cx="772" cy="281" r="13"/><circle cx="772" cy="281" r="13"/><circle cx="796" cy="350" r="13"/><circle cx="772" cy="391" r="13"/><circle cx="1029" cy="103" r="13"/><circle cx="1146" cy="79" r="13"/><circle cx="71" cy="528" r="13"/>
</g>
</g>

<!-- regression lines -->
<line x1="1093.3" y1="439.4" x2="1952.1" y2="380.0" stroke="#d95f02" stroke-width="1.3"/>
<line x1="1093.3" y1="660.5" x2="1952.1" y2="369.9" stroke="#1b9e77" stroke-width="1.3"/>

<!-- right axes -->
<g stroke="#000" stroke-width="1.1" fill="none">
<line x1="1093.3" y1="125" x2="1093.3" y2="940.4"/>
<line x1="1081.6" y1="125" x2="1093.3" y2="125"/>
<line x1="1081.6" y1="260.9" x2="1093.3" y2="260.9"/>
<line x1="1081.6" y1="396.8" x2="1093.3" y2="396.8"/>
<line x1="1081.6" y1="532.7" x2="1093.3" y2="532.7"/>
<line x1="1081.6" y1="668.6" x2="1093.3" y2="668.6"/>
<line x1="1081.6" y1="804.5" x2="1093.3" y2="804.5"/>
<line x1="1081.6" y1="940.4" x2="1093.3" y2="940.4"/>
<line x1="1124.3" y1="974" x2="1920.3" y2="974"/>
<line x1="1124.3" y1="974" x2="1124.3" y2="985.7"/>
<line x1="1323.3" y1="974" x2="1323.3" y2="985.7"/>
<line x1="1522.3" y1="974" x2="1522.3" y2="985.7"/>
<line x1="1721.3" y1="974" x2="1721.3" y2="985.7"/>
<line x1="1920.3" y1="974" x2="1920.3" y2="985.7"/>
</g>
<g font-size="19" text-anchor="middle">
<text transform="translate(1067,125) rotate(-90)">3</text>
<text transform="translate(1067,260.9) rotate(-90)">2</text>
<text transform="translate(1067,396.8) rotate(-90)">1</text>
<text transform="translate(1067,532.7) rotate(-90)">0</text>
<text transform="translate(1067,668.6) rotate(-90)">−1</text>
<text transform="translate(1067,804.5) rotate(-90)">−2</text>
<text transform="translate(1067,940.4) rotate(-90)">−3</text>
<text transform="translate(1022,532) rotate(-90)">Actual implicit attitudes</text>
<text x="1124.3" y="1015">−2</text>
<text x="1323.3" y="1015">−1</text>
<text x="1522.3" y="1015">0</text>
<text x="1721.3" y="1015">1</text>
<text x="1920.3" y="1015">2</text>
<text x="1522.3" y="1061">Predicted implicit attitudes</text>
</g>

<!-- legend -->
<circle cx="1829" cy="928.3" r="4.3" fill="rgba(27,158,119,0.27)" stroke="#000" stroke-width="1"/>
<path d="M1829 923l5.3 5.3-5.3 5.3-5.3-5.3z" transform="translate(0,23.4)" fill="rgba(217,95,2,0.3)" stroke="#000" stroke-width="1"/>
<text x="1846" y="936" font-size="19">Aligned</text>
<text x="1846" y="958.5" font-size="19">Dissociated</text>
</svg>
</body>
</html>
